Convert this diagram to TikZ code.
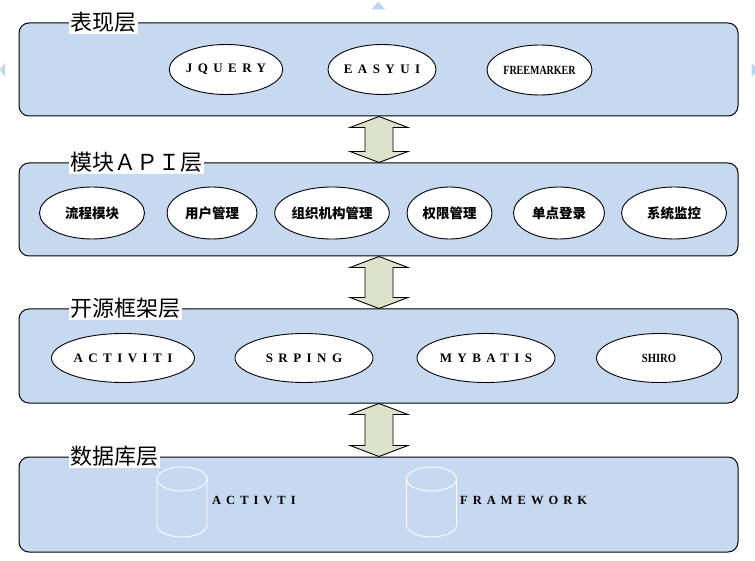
\documentclass[tikz,border=0pt]{standalone}
\usepackage{fontspec}
\usepackage{graphicx}
\setmainfont{Liberation Serif}
\newfontfamily\cjk{Noto Sans CJK SC}
\newfontfamily\spaced[LetterSpace=42]{Liberation Serif}
\newfontfamily\spacedwide[LetterSpace=40]{Liberation Serif}
\usetikzlibrary{shapes.geometric,calc}
\definecolor{layerblue}{HTML}{C6D9F0}
\definecolor{arrowgreen}{HTML}{DDE3CB}
\definecolor{handleblue}{HTML}{B9D6F5}
\tikzset{
 layer/.style={draw=black, line width=1pt, fill=layerblue, rounded corners=10pt, minimum width=719pt, inner sep=0pt},
 ltitle/.style={fill=white, inner sep=1.5pt, font=\cjk\fontsize{22}{22}\selectfont, anchor=west},
 comp/.style={draw=black, line width=0.9pt, fill=white, ellipse, inner sep=0pt, minimum height=50pt},
 cn/.style={font=\cjk\bfseries\fontsize{13.5}{14}\selectfont},
 en/.style={font=\spaced\bfseries\fontsize{13}{13}\selectfont},
 narrow/.style={font=\bfseries\fontsize{12.5}{13}\selectfont},
 dblarrow/.style={draw=black, line width=0.9pt, fill=arrowgreen, line join=miter},
 cyl/.style={draw=white, line width=0.9pt},
 dblabel/.style={font=\spacedwide\bfseries\fontsize{12.5}{13}\selectfont, anchor=west, inner sep=0pt},
 handle/.style={fill=handleblue, draw=none},
}
\newcommand{\dblarr}[2]{\draw[dblarrow] (#1.south -| ax) -- ++(29,11) -- ++(-15,0) -- ($(#2.north -| ax)+(14,-11)$) -- ++(15,0) -- (#2.north -| ax) -- ++(-29,-11) -- ++(15,0) -- ($(#1.south -| ax)+(-14,11)$) -- ++(-15,0) -- cycle;}
\newcommand{\dbcyl}[1]{%
  \draw[cyl] (#1,479) ellipse [x radius=25pt, y radius=12pt];
  \draw[cyl] ($(#1,479)+(-25,0)$) -- ($(#1,525)+(-25,0)$) arc[start angle=180, end angle=360, x radius=25pt, y radius=12pt] -- ($(#1,479)+(25,0)$);}
\begin{document}
\begin{tikzpicture}[x=1pt,y=-1pt]
\useasboundingbox (0,0) rectangle (755,561);
\fill[white] (0,0) rectangle (755,561);
% selection handles
\fill[handle] (371.7,9.3) -- (378.3,1.7) -- (385,9.3) -- cycle;
\fill[handle] (0,70) -- (5,63) -- (5,77) -- cycle;
\fill[handle] (751.5,63) -- (751.5,77) -- (758,70) -- cycle;

% layers
\node[layer, minimum height=93pt] (L1) at (378.5,69.5) {};
\node[layer, minimum height=93pt] (L2) at (378.5,209.5) {};
\node[layer, minimum height=94pt] (L3) at (378.5,356) {};
\node[layer, minimum height=95pt] (L4) at (378.5,504.5) {};

\node[ltitle] (T1) at ([xshift=50pt]L1.north west) {表现层};
\node[ltitle] (T2) at ([xshift=50pt]L2.north west) {模块ＡＰＩ层};
\node[ltitle] (T3) at ([xshift=50pt]L3.north west) {开源框架层};
\node[ltitle] (T4) at ([xshift=50pt]L4.north west) {数据库层};

% presentation layer
\node[comp, en, minimum width=104pt] (jq) at (226,69.5) {JQUERY};
\node[comp, en, minimum width=105pt] (ez) at (382,69.5) {EASYUI};
\node[comp, narrow, minimum width=105pt] (fm) at (539.5,70) {\scalebox{0.8}[1]{FREEMARKER}};

% module API layer
\node[comp, cn, minimum width=105pt, minimum height=52pt] (m1) at (92,213) {流程模块};
\node[comp, cn, minimum width=90pt, minimum height=52pt] (m2) at (212,213) {用户管理};
\node[comp, cn, minimum width=101pt, minimum height=52pt] (m3) at (332,213) {组织机构管理};
\node[comp, cn, minimum width=85pt, minimum height=52pt] (m4) at (449.5,213) {权限管理};
\node[comp, cn, minimum width=91pt, minimum height=52pt] (m5) at (559,213) {单点登录};
\node[comp, cn, minimum width=105pt, minimum height=52pt] (m6) at (674,213) {系统监控};

% open source framework layer
\node[comp, en, minimum width=143pt, minimum height=49pt] (f1) at (123,358) {ACTIVITI};
\node[comp, en, minimum width=138pt, minimum height=49pt] (f2) at (304,358) {SRPING};
\node[comp, en, minimum width=138pt, minimum height=49pt] (f3) at (486,358) {MYBATIS};
\node[comp, narrow, minimum width=125pt, minimum height=49pt] (f4) at (659,358) {\scalebox{0.85}[1]{SHIRO}};

% database layer
\dbcyl{182}
\dbcyl{431.5}
\node[dblabel] (d1) at (212,500) {ACTIVTI};
\node[dblabel] (d2) at (460,500) {FRAMEWORK};

% arrows
\coordinate (ax) at (379,0);
\dblarr{L1}{L2}
\dblarr{L2}{L3}
\dblarr{L3}{L4}
\end{tikzpicture}
\end{document}
